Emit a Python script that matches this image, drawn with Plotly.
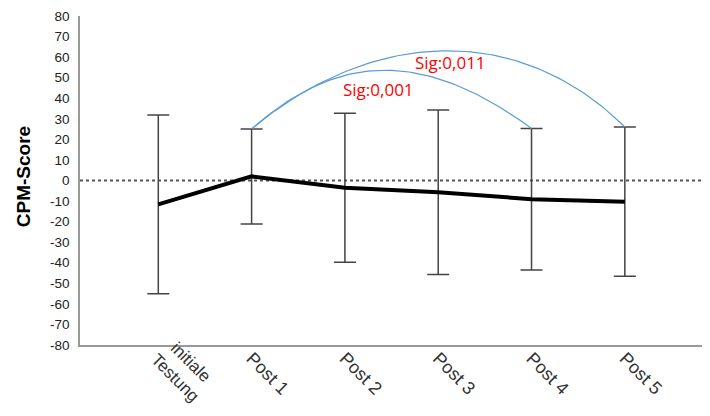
import plotly.graph_objects as go

categories = ["initiale<br>Testung", "Post 1", "Post 2", "Post 3", "Post 4", "Post 5"]
means = [-11.6, 2.0, -3.5, -5.7, -9.1, -10.3]
errors = [43.5, 23.1, 36.2, 40.0, 34.4, 36.3]
y_ticks = list(range(-80, 81, 10))

# significance brackets: (from index, to index, label, control x1, control x2, control height)
sig_pairs = [
    (1, 4, "Sig:0,001", 1.95, 2.86, 63.1),
    (1, 5, "Sig:0,011", 2.34, 3.90, 75.6),
]
sig_label_pos = [(2.36, 44.5), (3.13, 57.2)]

xs = list(range(len(categories)))

fig = go.Figure()

# zero reference line
fig.add_shape(type="line", xref="paper", x0=0, x1=1, yref="y", y0=0, y1=0,
              line=dict(color="#555555", width=2, dash="dot"), layer="below")

fig.add_trace(go.Scatter(
    x=xs, y=means, mode="lines",
    line=dict(color="black", width=4),
    error_y=dict(type="data", array=errors, symmetric=True,
                 color="#444444", thickness=1.5, width=11),
    hoverinfo="skip", showlegend=False,
))


def bezier(p0, p1, p2, p3, n=80):
    pts_x, pts_y = [], []
    for i in range(n + 1):
        t = i / n
        a = (1 - t) ** 3
        b = 3 * (1 - t) ** 2 * t
        c = 3 * (1 - t) * t ** 2
        d = t ** 3
        pts_x.append(a * p0[0] + b * p1[0] + c * p2[0] + d * p3[0])
        pts_y.append(a * p0[1] + b * p1[1] + c * p2[1] + d * p3[1])
    return pts_x, pts_y


for (i0, i1, label, cx1, cx2, ch), (lx, ly) in zip(sig_pairs, sig_label_pos):
    p0 = (xs[i0], means[i0] + errors[i0])
    p3 = (xs[i1], means[i1] + errors[i1])
    bx, by = bezier(p0, (cx1, ch), (cx2, ch), p3)
    fig.add_trace(go.Scatter(x=bx, y=by, mode="lines",
                             line=dict(color="#5b9bd5", width=1.2),
                             hoverinfo="skip", showlegend=False))
    fig.add_annotation(x=lx, y=ly, text=label, showarrow=False,
                       font=dict(family="Open Sans", size=17, color="#ff0000"),
                       xanchor="center", yanchor="middle")

fig.add_annotation(x=-0.0916, xref="paper", y=0.51, yref="paper",
                   text="<b>CPM-Score</b>", textangle=-90, showarrow=False,
                   font=dict(family="Liberation Sans, Arial", size=19, color="black"),
                   xanchor="center", yanchor="middle")

# two-line first category label drawn as a rotated annotation
fig.add_annotation(x=xs[0], xref="x", y=0, yref="paper",
                   text=categories[0], textangle=45, showarrow=False,
                   font=dict(family="Liberation Sans, Arial", size=17, color="#333333"),
                   xanchor="center", yanchor="top", align="center",
                   xshift=25, yshift=13)

tick_text = [""] + categories[1:]

fig.update_layout(
    width=710, height=416,
    margin=dict(l=80, r=8, t=16, b=71),
    plot_bgcolor="white", paper_bgcolor="white",
    font=dict(family="Liberation Sans, Arial", color="#222222"),
)
fig.update_xaxes(
    range=[-0.839, 5.827], tickvals=xs, ticktext=tick_text, tickangle=45,
    showgrid=False, zeroline=False, showline=True, linecolor="#999999", linewidth=1.5,
    ticks="", ticklabelstandoff=-6, tickfont=dict(size=18, color="#333333"),
    automargin=False,
)
fig.update_yaxes(
    range=[-80, 80], tickvals=y_ticks, ticktext=[str(v) for v in y_ticks],
    showgrid=False, zeroline=False, showline=True, linecolor="#999999", linewidth=1.5,
    ticks="", ticklabelstandoff=6, tickfont=dict(size=13.5, color="#222222"),
    automargin=False,
)

fig.write_html("out.html")
